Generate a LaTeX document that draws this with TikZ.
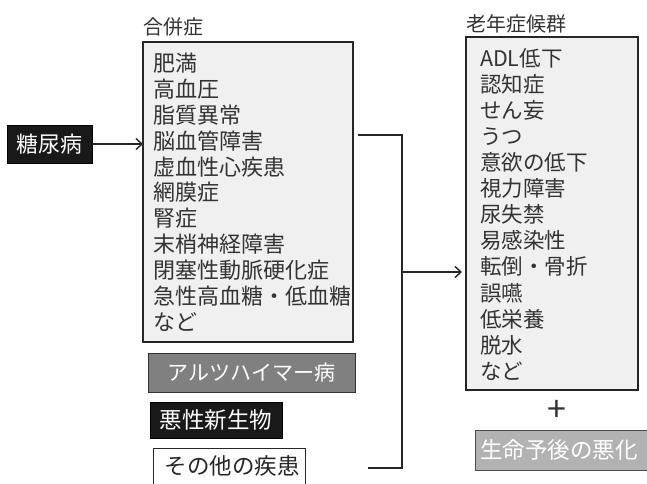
\documentclass[tikz,border=0pt]{standalone}
\usepackage{fontspec}
\setmainfont{Noto Sans CJK JP}
\usetikzlibrary{arrows.meta}
\begin{document}
\begin{tikzpicture}[x=1pt,y=-1pt,
  every node/.style={inner sep=0pt, outer sep=0pt},
  item/.style={anchor=west, font=\fontsize{22}{22}\selectfont, text height=19.4pt, text depth=2.6pt, text=black!80},
  ritem/.style={anchor=west, font=\fontsize{21.5}{21.5}\selectfont, text height=18.9pt, text depth=2.6pt, text=black!80},
  hdr/.style={anchor=west, font=\fontsize{20}{20}\selectfont, text height=17.6pt, text depth=2.4pt, text=black!80},
  listbox/.style={draw=black!85, line width=1.1pt, fill=black!6},
  darkbox/.style={draw=black, line width=1pt, fill=black!90, text=white},
  greybox/.style={draw=black!80, line width=1pt, fill=black!50, text=white},
  lightgreybox/.style={draw=black!70, line width=1pt, fill=black!30, text=white},
  plainbox/.style={draw=black!85, line width=1pt, fill=white, text=black!85},
  conn/.style={line width=1.4pt, draw=black!85},
  arr/.style={conn, -{Straight Barb[length=6pt,width=11pt,line width=1.4pt]}}
]
\useasboundingbox (0,0) rectangle (647,483);
\fill[white] (0,0) rectangle (647,483);

% left input
\node[darkbox, minimum width=85pt, minimum height=38pt, font=\fontsize{22}{22}\selectfont] (diab) at (49.5,144) {糖尿病};

% complications box
\node[hdr] (complabel) at (143,27) {合併症};
\node[listbox, minimum width=210pt, minimum height=300pt] (comp) at (248,192) {};
\foreach \t [count=\i from 0] in {肥満,高血圧,脂質異常,脳血管障害,虚血性心疾患,網膜症,腎症,末梢神経障害,閉塞性動脈硬化症,急性高血糖・低血糖,など}
  \node[item, name=c\i] at (153,{63+25.9*\i}) {\t};

\draw[arr] (diab.east) -- (diab.east -| comp.west);

% other disease boxes
\node[greybox, minimum width=207pt, minimum height=39pt, font=\fontsize{21}{21}\selectfont] (alz) at (251.5,372.5) {アルツハイマー病};
\node[darkbox, minimum width=132pt, minimum height=36pt, font=\fontsize{22.5}{22.5}\selectfont] (mal) at (216,420) {悪性新生物};
\node[plainbox, minimum width=152pt, minimum height=36pt, anchor=north] (oth) at (229,448) {};
\node[font=\fontsize{22.5}{22.5}\selectfont, text=black!85] (othtext) at (232,466) {その他の疾患};

% bracket connector
\coordinate (b0) at (358,135);
\coordinate (b1) at (402,135);
\coordinate (b2) at (402,468);
\coordinate (b3) at (368,468);
\coordinate (a0) at (402,272);
\coordinate (a1) at (462,272);
\draw[conn] (b0) -- (b1) -- (b2) -- (b3);
\draw[arr] (a0) -- (a1);

% geriatric syndromes box
\node[hdr] (gerlabel) at (466,24) {老年症候群};
\node[listbox, minimum width=172pt, minimum height=353pt] (ger) at (552,213.5) {};
\foreach \t [count=\i from 0] in {ADL低下,認知症,せん妄,うつ,意欲の低下,視力障害,尿失禁,易感染性,転倒・骨折,誤嚥,低栄養,脱水,など}
  \node[ritem, name=g\i] at (480,{58+26.1*\i}) {\t};

\node[font=\fontsize{34}{34}\selectfont, text=black!80] (plus) at (557,411) {+};

\node[lightgreybox, minimum width=180pt, minimum height=40pt, anchor=west] (prog) at (475,450) {};
\node[anchor=west, font=\fontsize{22.5}{22.5}\selectfont, text=white] (progtext) at (480,450) {生命予後の悪化};
\end{tikzpicture}
\end{document}
